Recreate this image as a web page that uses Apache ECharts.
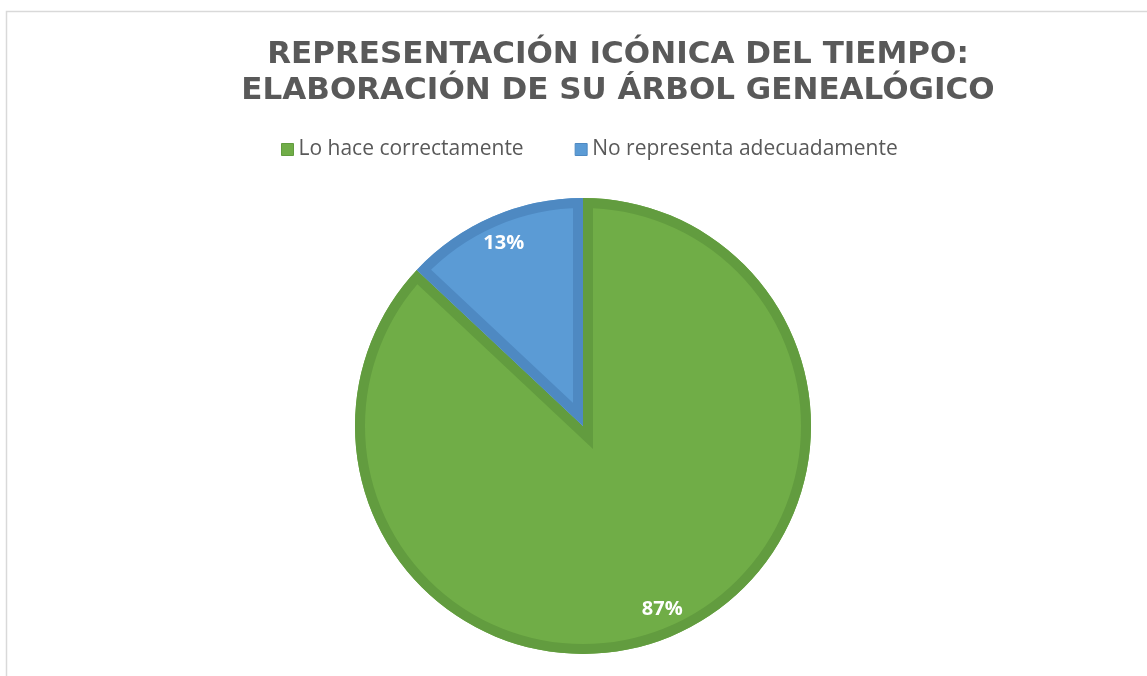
<!DOCTYPE html>
<html>
<head>
<meta charset="utf-8">
<title>Representación icónica del tiempo</title>
<script src="https://cdn.jsdelivr.net/npm/echarts@6/dist/echarts.min.js"></script>
<style>
  html, body { margin: 0; padding: 0; background: #fff; }
  #chart { width: 1147px; height: 676px; }
</style>
</head>
<body>
<div id="chart"></div>
<script>
// datos
const categories = ['Lo hace correctamente', 'No representa adecuadamente'];
const values = [87, 13];
const fillColors = ['#70AD47', '#5B9BD5'];
const edgeColors = ['#629C3F', '#4E89C2'];

const total = values.reduce((s, v) => s + v, 0);
const chartDom = document.getElementById('chart');
const myChart = echarts.init(chartDom);

const INSET = 10; // borde interior de cada sector

// cada sector se dibuja con su borde hacia adentro (recortado al propio sector)
function renderSlice(params, api) {
  const cs = params.coordSys;
  const pStart = api.coord([1, api.value(0)]);
  const pEnd = api.coord([1, api.value(1)]);
  const pMid = api.coord([0.875, (api.value(0) + api.value(1)) / 2]);
  let a0 = Math.atan2(pStart[1] - cs.cy, pStart[0] - cs.cx);
  let a1 = Math.atan2(pEnd[1] - cs.cy, pEnd[0] - cs.cx);
  if (a1 <= a0) a1 += Math.PI * 2;
  const idx = api.value(2);
  const shape = { cx: cs.cx, cy: cs.cy, r0: 0, r: cs.r, startAngle: a0, endAngle: a1, clockwise: true };
  const pct = Math.round((api.value(1) - api.value(0)) / total * 100) + '%';
  return {
    type: 'group',
    children: [
      { type: 'sector', shape: shape, style: { fill: fillColors[idx] } },
      {
        type: 'sector',
        shape: shape,
        style: { fill: 'none', stroke: edgeColors[idx], lineWidth: INSET * 2, lineJoin: 'miter' },
        clipPath: { type: 'sector', shape: shape }
      },
      {
        type: 'text',
        x: pMid[0],
        y: pMid[1],
        style: {
          text: pct,
          fill: '#ffffff',
          font: 'bold 20px "Open Sans"',
          align: 'center',
          verticalAlign: 'middle'
        }
      }
    ]
  };
}

let acc = 0;
const sliceSeries = categories.map(function (name, i) {
  const start = acc;
  acc += values[i];
  return {
    name: name,
    type: 'custom',
    coordinateSystem: 'polar',
    itemStyle: { color: fillColors[i] },
    data: [[start, acc, i]],
    renderItem: renderSlice,
    silent: true
  };
});

const option = {
  backgroundColor: '#ffffff',
  animation: false,
  title: {
    text: 'REPRESENTACIÓN ICÓNICA DEL TIEMPO:\nELABORACIÓN DE SU ÁRBOL GENEALÓGICO',
    left: 613,
    top: 32,
    textAlign: 'center',
    textStyle: {
      color: '#595959',
      fontFamily: 'DejaVu Sans',
      fontWeight: 'bold',
      fontSize: 31,
      lineHeight: 36
    }
  },
  legend: {
    left: 276,
    top: 134,
    itemWidth: 12,
    itemHeight: 12,
    itemGap: 51,
    icon: 'rect',
    data: categories.map(function (name, i) {
      return { name: name, itemStyle: { color: fillColors[i], borderColor: edgeColors[i], borderWidth: 1 } };
    }),
    textStyle: { color: '#595959', fontFamily: 'Open Sans', fontSize: 21 }
  },
  polar: {
    center: [583, 426],
    radius: 228
  },
  angleAxis: {
    type: 'value',
    min: 0,
    max: total,
    startAngle: 90,
    clockwise: true,
    show: false
  },
  radiusAxis: {
    type: 'value',
    min: 0,
    max: 1,
    show: false
  },
  graphic: [
    {
      type: 'rect',
      shape: { x: 6.5, y: 11.5, width: 1200, height: 700 },
      style: { fill: 'none', stroke: '#d9d9d9', lineWidth: 1.5 },
      silent: true
    }
  ],
  series: sliceSeries
};

option && myChart.setOption(option);
</script>
</body>
</html>
